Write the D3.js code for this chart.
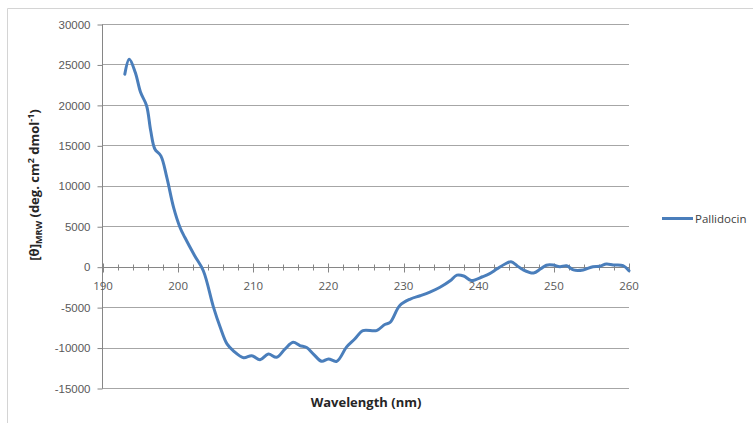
<!DOCTYPE html>
<html>
<head>
<meta charset="utf-8">
<script src="https://cdn.jsdelivr.net/npm/d3@7"></script>
<style>
  html, body { margin: 0; padding: 0; background: #fff; }
  svg { display: block; font-family: "Open Sans", "Liberation Sans", sans-serif; }
</style>
</head>
<body>
<svg id="chart" width="753" height="423"></svg>
<script>
// CD spectrum of Pallidocin: wavelength (nm) vs mean residue ellipticity
const wavelengths = [192.9, 193.5, 194.3, 195.0, 195.8, 196.35, 196.9, 197.7, 198.5, 199.4,
  200.25, 200.9, 202.2, 203.35, 204.7, 205.6, 206.5, 207.35, 208.7, 209.8,
  210.9, 212.0, 213.1, 214.2, 215.3, 216.2, 217.1, 218.0, 219.1, 220.0,
  221.1, 222.4, 223.5, 224.6, 226.4, 227.5, 228.2, 229.5, 230.9, 232.2,
  233.5, 234.85, 236.2, 237.1, 238.0, 239.0, 240.5, 241.4, 242.4, 243.5,
  244.3, 245.1, 245.9, 247.3, 248.2, 249.0, 249.9, 250.8, 251.7, 252.6,
  253.9, 255.2, 256.1, 257.0, 257.9, 259.2, 260.0];
const ellipticity = [23800, 25650, 24000, 21550, 19900, 16800, 14550, 13700, 11000, 7300,
  4850, 3600, 1350, -500, -5000, -7500, -9550, -10400, -11250, -11000,
  -11500, -10800, -11200, -10200, -9350, -9750, -10000, -10800, -11700, -11400,
  -11700, -9950, -8950, -7900, -7900, -7150, -6900, -4800, -4000, -3600,
  -3150, -2550, -1750, -1050, -1150, -1700, -1250, -900, -300, 330,
  600, 120, -380, -780, -300, 180, 200, 0, 120, -400,
  -400, 0, 50, 320, 200, 120, -500];
const seriesName = "Pallidocin";

const xTicks = [190, 200, 210, 220, 230, 240, 250, 260];
const xMinorTicks = d3.range(190, 261, 2);
const yTicks = [-15000, -10000, -5000, 0, 5000, 10000, 15000, 20000, 25000, 30000];

const svg = d3.select("#chart");
const plot = { left: 102, right: 629, top: 24, bottom: 388 };

const x = d3.scaleLinear().domain([190, 260]).range([plot.left + 1, plot.right]);
const y = d3.scaleLinear().domain([-15000, 30000]).range([plot.bottom, plot.top]);

// outer chart frame (top and left edges)
svg.append("path")
  .attr("d", "M7.5,423 V8.5 H753")
  .attr("fill", "none").attr("stroke", "#d4d4d4").attr("stroke-width", 1);

// horizontal gridlines
svg.append("g").selectAll("line").data(yTicks).join("line")
  .attr("x1", plot.left).attr("x2", plot.right)
  .attr("y1", d => Math.round(y(d)) + 0.5).attr("y2", d => Math.round(y(d)) + 0.5)
  .attr("stroke", "#a6a6a6").attr("stroke-width", 1);

// y axis (plain hyphen for negative numbers)
const yAxis = svg.append("g")
  .attr("transform", `translate(${plot.left + 0.5},0.5)`)
  .call(d3.axisLeft(y).tickValues(yTicks).tickFormat(d => String(d)).tickSize(5).tickPadding(7))
  .call(g => g.select(".domain").attr("stroke", "#868686").attr("d", `M0,${y(30000)}V${y(-15000)}`));
yAxis.selectAll(".tick line").attr("stroke", "#868686");
yAxis.selectAll("text").attr("fill", "#595959").style("font-size", "11.5px").attr("font-family", null);

// x axis drawn along zero
const zeroY = Math.round(y(0)) + 0.5;
const xg = svg.append("g");
xg.append("line").attr("x1", plot.left).attr("x2", plot.right)
  .attr("y1", zeroY).attr("y2", zeroY).attr("stroke", "#868686");
xg.selectAll("line.minor").data(xMinorTicks.filter(d => d % 10 !== 0)).join("line")
  .attr("class", "minor")
  .attr("x1", d => Math.round(x(d)) + 0.5).attr("x2", d => Math.round(x(d)) + 0.5)
  .attr("y1", zeroY - 3).attr("y2", zeroY + 3).attr("stroke", "#868686");
xg.selectAll("line.major").data(xTicks).join("line")
  .attr("class", "major")
  .attr("x1", d => Math.round(x(d)) + 0.5).attr("x2", d => Math.round(x(d)) + 0.5)
  .attr("y1", zeroY - 4).attr("y2", zeroY + 5).attr("stroke", "#868686");
xg.selectAll("text").data(xTicks).join("text")
  .attr("x", d => x(d)).attr("y", zeroY + 22)
  .attr("text-anchor", "middle").attr("fill", "#595959").style("font-size", "11.5px")
  .text(d => d);

// axis titles
svg.append("text")
  .attr("x", 366).attr("y", 407)
  .attr("text-anchor", "middle").attr("fill", "#262626")
  .style("font-size", "13px").style("font-weight", "bold")
  .text("Wavelength (nm)");

const yTitle = svg.append("text")
  .attr("transform", "translate(39,185) rotate(-90)")
  .attr("text-anchor", "middle").attr("fill", "#262626")
  .style("font-size", "13px").style("font-weight", "bold");
yTitle.append("tspan").text("[θ]");
yTitle.append("tspan").attr("dy", 3).style("font-size", "9px").text("MRW");
yTitle.append("tspan").attr("dy", -3).text(" (deg. cm");
yTitle.append("tspan").attr("dy", -5).style("font-size", "9px").text("2");
yTitle.append("tspan").attr("dy", 5).text(" dmol");
yTitle.append("tspan").attr("dy", -5).style("font-size", "9px").text("-1");
yTitle.append("tspan").attr("dy", 5).text(")");

// spectrum line
const points = wavelengths.map((w, i) => [w, ellipticity[i]]);
svg.append("path")
  .datum(points)
  .attr("fill", "none")
  .attr("stroke", "#4a7ebb")
  .attr("stroke-width", 3)
  .attr("stroke-linejoin", "round")
  .attr("stroke-linecap", "round")
  .attr("d", d3.line().x(d => x(d[0])).y(d => y(d[1])).curve(d3.curveCatmullRom.alpha(0.5)));

// legend
const legend = svg.append("g").attr("transform", "translate(662,218)");
legend.append("line").attr("x1", 0).attr("x2", 31).attr("y1", 0.5).attr("y2", 0.5)
  .attr("stroke", "#4a7ebb").attr("stroke-width", 3);
legend.append("text").attr("x", 33).attr("y", 4.5)
  .attr("fill", "#404040").style("font-size", "11.5px")
  .text(seriesName);
</script>
</body>
</html>
